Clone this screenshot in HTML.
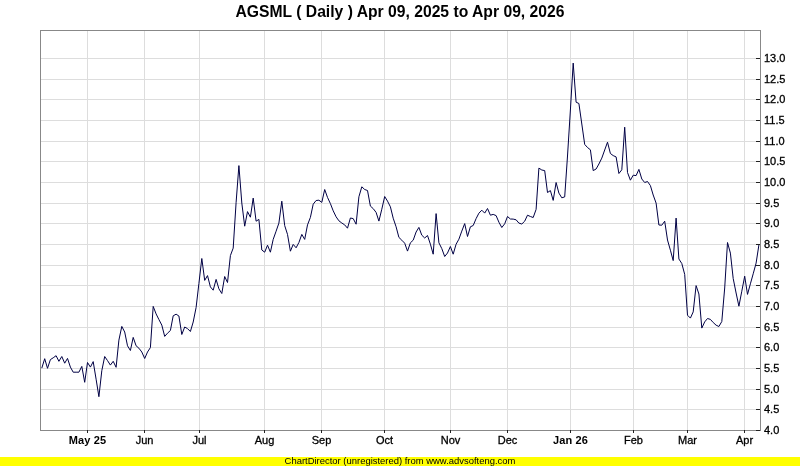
<!DOCTYPE html><html><head><meta charset="utf-8"><style>html,body{margin:0;padding:0;background:#fff}svg{display:block}text{font-family:"Liberation Sans",sans-serif}</style></head><body>
<svg width="800" height="466" viewBox="0 0 800 466">
<rect width="800" height="466" fill="#fff"/>
<path d="M40 409.5H760 M40 389.5H760 M40 368.5H760 M40 347.5H760 M40 327.5H760 M40 306.5H760 M40 285.5H760 M40 265.5H760 M40 244.5H760 M40 223.5H760 M40 203.5H760 M40 182.5H760 M40 161.5H760 M40 141.5H760 M40 120.5H760 M40 99.5H760 M40 79.5H760 M40 58.5H760 M87.5 30V430 M144.5 30V430 M199.5 30V430 M264.5 30V430 M321.5 30V430 M384.5 30V430 M450.5 30V430 M507.5 30V430 M570.5 30V430 M633.5 30V430 M687.5 30V430 M744.5 30V430" stroke="#dddddd" stroke-width="1" fill="none" shape-rendering="crispEdges"/>
<path d="M41.8 368.1 L44.7 358.7 L47.5 368.3 L50.4 359.6 L53.2 357.8 L56.1 355.7 L58.9 361.3 L61.8 356.5 L64.7 363.2 L67.5 358.4 L70.4 367.1 L73.2 372.2 L76.1 372.2 L78.9 372.2 L81.8 366.4 L84.7 382.3 L87.5 362.5 L90.4 367.1 L93.2 361.6 L96.1 379.2 L98.9 396.7 L101.8 370.7 L104.7 356.5 L107.5 360.6 L110.4 365.1 L113.2 361.3 L116.1 367.3 L118.9 340.1 L121.8 326.4 L124.7 332.0 L127.5 345.8 L130.4 350.5 L133.2 337.4 L136.1 345.8 L138.9 348.2 L141.8 352.0 L144.7 358.5 L147.5 352.0 L150.4 347.6 L153.2 306.4 L156.1 313.9 L158.9 319.5 L161.8 325.1 L164.7 336.4 L167.5 333.2 L170.4 330.5 L173.2 315.8 L176.1 314.2 L178.9 316.0 L181.8 334.5 L184.7 327.0 L187.5 328.6 L190.4 331.5 L193.2 322.0 L196.1 307.5 L198.9 283.5 L201.8 258.5 L204.7 280.4 L207.5 275.6 L210.4 286.9 L213.2 290.2 L216.1 279.4 L218.9 288.8 L221.8 293.5 L224.7 276.5 L227.5 282.5 L230.4 255.6 L233.2 248.1 L236.1 202.5 L238.9 165.6 L241.8 203.0 L244.7 226.2 L247.5 211.6 L250.4 217.2 L253.2 198.1 L256.1 221.2 L258.9 219.4 L261.8 250.0 L264.7 252.2 L267.5 245.2 L270.4 252.2 L273.2 239.4 L276.1 231.2 L278.9 223.1 L281.8 201.2 L284.7 225.6 L287.5 234.4 L290.4 251.2 L293.2 244.4 L296.1 247.8 L298.9 242.5 L301.8 234.4 L304.7 239.4 L307.5 224.9 L310.4 217.4 L313.2 204.2 L316.1 200.5 L318.9 200.2 L321.8 202.4 L324.7 189.5 L327.5 197.4 L330.4 203.6 L333.2 210.8 L336.1 216.8 L338.9 220.8 L341.8 223.0 L344.7 224.9 L347.5 228.2 L350.4 218.0 L353.2 218.6 L356.1 224.2 L358.9 196.8 L361.8 186.8 L364.7 189.5 L367.5 190.5 L370.4 206.1 L373.2 208.6 L376.1 212.4 L378.9 221.1 L381.8 209.2 L384.7 196.5 L387.5 201.1 L390.4 206.8 L393.2 218.2 L396.1 226.8 L398.9 237.4 L401.8 240.2 L404.7 243.2 L407.5 251.1 L410.4 242.8 L413.2 240.2 L416.1 232.0 L418.9 227.4 L421.8 235.2 L424.7 238.0 L427.5 235.5 L430.4 244.2 L433.2 254.2 L436.1 213.6 L438.9 242.8 L441.8 248.6 L444.7 256.5 L447.5 253.0 L450.4 246.5 L453.2 254.2 L456.1 244.2 L458.9 239.2 L461.8 231.1 L464.7 223.6 L467.5 236.5 L470.4 226.8 L473.2 225.5 L476.1 218.6 L478.9 213.2 L481.8 210.2 L484.7 213.1 L487.5 208.5 L490.4 215.2 L493.2 214.4 L496.1 215.6 L498.9 222.2 L501.8 227.5 L504.7 223.8 L507.5 216.5 L510.4 219.0 L513.2 219.1 L516.1 219.8 L518.9 223.1 L521.8 224.0 L524.7 221.2 L527.5 215.2 L530.4 216.5 L533.2 217.5 L536.1 209.4 L538.9 168.1 L541.8 170.0 L544.7 170.6 L547.5 192.5 L550.4 190.6 L553.2 200.4 L556.1 182.5 L558.9 193.1 L561.8 197.8 L564.7 196.9 L567.5 156.0 L570.4 110.0 L573.2 63.1 L576.1 102.2 L578.9 103.5 L581.8 124.0 L584.7 144.4 L587.5 147.5 L590.4 149.8 L593.2 170.6 L596.1 169.0 L598.9 164.0 L601.8 158.1 L604.7 150.0 L607.5 142.2 L610.4 153.5 L613.2 155.6 L616.1 156.9 L618.9 173.5 L621.8 169.8 L624.7 127.2 L627.5 172.5 L630.4 180.2 L633.2 175.2 L636.1 175.6 L638.9 169.4 L641.8 179.0 L644.7 182.5 L647.5 181.5 L650.4 185.6 L653.2 195.0 L656.1 203.1 L658.9 225.0 L661.8 225.2 L664.7 221.2 L667.5 240.0 L670.4 250.2 L673.2 260.6 L676.1 218.1 L678.9 259.0 L681.8 263.5 L684.7 274.4 L687.5 315.2 L690.4 318.1 L693.2 311.9 L696.1 285.6 L698.9 294.0 L701.8 328.1 L704.7 321.9 L707.5 318.5 L710.4 319.4 L713.2 322.5 L716.1 325.2 L718.9 326.5 L721.8 321.5 L724.7 288.0 L727.5 242.5 L730.4 253.1 L733.2 278.5 L736.1 293.0 L738.9 306.2 L741.8 291.2 L744.7 276.2 L747.5 294.4 L750.4 283.8 L753.2 273.8 L756.1 263.1 L758.9 245.0" stroke="#000044" stroke-width="1" fill="none" stroke-linejoin="bevel"/>
<path d="M40.5 430.5V30.5H760.5" stroke="#888888" fill="none" shape-rendering="crispEdges"/>
<path d="M40.5 430.5H760.5V30.5" stroke="#888888" fill="none" shape-rendering="crispEdges"/>
<text x="764" y="434.4" font-size="11" fill="#000" stroke="#000" stroke-width="0.3">4.0</text>
<text x="764" y="413.4" font-size="11" fill="#000" stroke="#000" stroke-width="0.3">4.5</text>
<text x="764" y="393.4" font-size="11" fill="#000" stroke="#000" stroke-width="0.3">5.0</text>
<text x="764" y="372.4" font-size="11" fill="#000" stroke="#000" stroke-width="0.3">5.5</text>
<text x="764" y="351.4" font-size="11" fill="#000" stroke="#000" stroke-width="0.3">6.0</text>
<text x="764" y="331.4" font-size="11" fill="#000" stroke="#000" stroke-width="0.3">6.5</text>
<text x="764" y="310.4" font-size="11" fill="#000" stroke="#000" stroke-width="0.3">7.0</text>
<text x="764" y="289.4" font-size="11" fill="#000" stroke="#000" stroke-width="0.3">7.5</text>
<text x="764" y="269.4" font-size="11" fill="#000" stroke="#000" stroke-width="0.3">8.0</text>
<text x="764" y="248.4" font-size="11" fill="#000" stroke="#000" stroke-width="0.3">8.5</text>
<text x="764" y="227.4" font-size="11" fill="#000" stroke="#000" stroke-width="0.3">9.0</text>
<text x="764" y="207.4" font-size="11" fill="#000" stroke="#000" stroke-width="0.3">9.5</text>
<text x="764" y="186.4" font-size="11" fill="#000" stroke="#000" stroke-width="0.3">10.0</text>
<text x="764" y="165.4" font-size="11" fill="#000" stroke="#000" stroke-width="0.3">10.5</text>
<text x="764" y="145.4" font-size="11" fill="#000" stroke="#000" stroke-width="0.3">11.0</text>
<text x="764" y="124.4" font-size="11" fill="#000" stroke="#000" stroke-width="0.3">11.5</text>
<text x="764" y="103.4" font-size="11" fill="#000" stroke="#000" stroke-width="0.3">12.0</text>
<text x="764" y="83.4" font-size="11" fill="#000" stroke="#000" stroke-width="0.3">12.5</text>
<text x="764" y="62.4" font-size="11" fill="#000" stroke="#000" stroke-width="0.3">13.0</text>
<text x="87.5" y="444" font-size="11" text-anchor="middle" fill="#000" font-weight="bold" letter-spacing="0.12">May 25</text>
<text x="144.5" y="444" font-size="11" text-anchor="middle" fill="#000" stroke="#000" stroke-width="0.3">Jun</text>
<text x="199.5" y="444" font-size="11" text-anchor="middle" fill="#000" stroke="#000" stroke-width="0.3">Jul</text>
<text x="264.5" y="444" font-size="11" text-anchor="middle" fill="#000" stroke="#000" stroke-width="0.3">Aug</text>
<text x="321.5" y="444" font-size="11" text-anchor="middle" fill="#000" stroke="#000" stroke-width="0.3">Sep</text>
<text x="384.5" y="444" font-size="11" text-anchor="middle" fill="#000" stroke="#000" stroke-width="0.3">Oct</text>
<text x="450.5" y="444" font-size="11" text-anchor="middle" fill="#000" stroke="#000" stroke-width="0.3">Nov</text>
<text x="507.5" y="444" font-size="11" text-anchor="middle" fill="#000" stroke="#000" stroke-width="0.3">Dec</text>
<text x="570.5" y="444" font-size="11" text-anchor="middle" fill="#000" font-weight="bold" letter-spacing="0.12">Jan 26</text>
<text x="633.5" y="444" font-size="11" text-anchor="middle" fill="#000" stroke="#000" stroke-width="0.3">Feb</text>
<text x="687.5" y="444" font-size="11" text-anchor="middle" fill="#000" stroke="#000" stroke-width="0.3">Mar</text>
<text x="744.5" y="444" font-size="11" text-anchor="middle" fill="#000" stroke="#000" stroke-width="0.3">Apr</text>
<path d="M756 430.5H760 M756 409.5H760 M756 389.5H760 M756 368.5H760 M756 347.5H760 M756 327.5H760 M756 306.5H760 M756 285.5H760 M756 265.5H760 M756 244.5H760 M756 223.5H760 M756 203.5H760 M756 182.5H760 M756 161.5H760 M756 141.5H760 M756 120.5H760 M756 99.5H760 M756 79.5H760 M756 58.5H760 M87.5 430V433 M144.5 430V433 M199.5 430V433 M264.5 430V433 M321.5 430V433 M384.5 430V433 M450.5 430V433 M507.5 430V433 M570.5 430V433 M633.5 430V433 M687.5 430V433 M744.5 430V433" stroke="#222" fill="none" shape-rendering="crispEdges"/>
<text x="400" y="17" font-size="15.7" font-weight="bold" text-anchor="middle" fill="#000">AGSML ( Daily ) Apr 09, 2025 to Apr 09, 2026</text>
<rect x="0" y="457" width="800" height="9" fill="#ffff00"/>
<text x="400" y="463.9" font-size="9.45" text-anchor="middle" fill="#000">ChartDirector (unregistered) from www.advsofteng.com</text>
</svg></body></html>
